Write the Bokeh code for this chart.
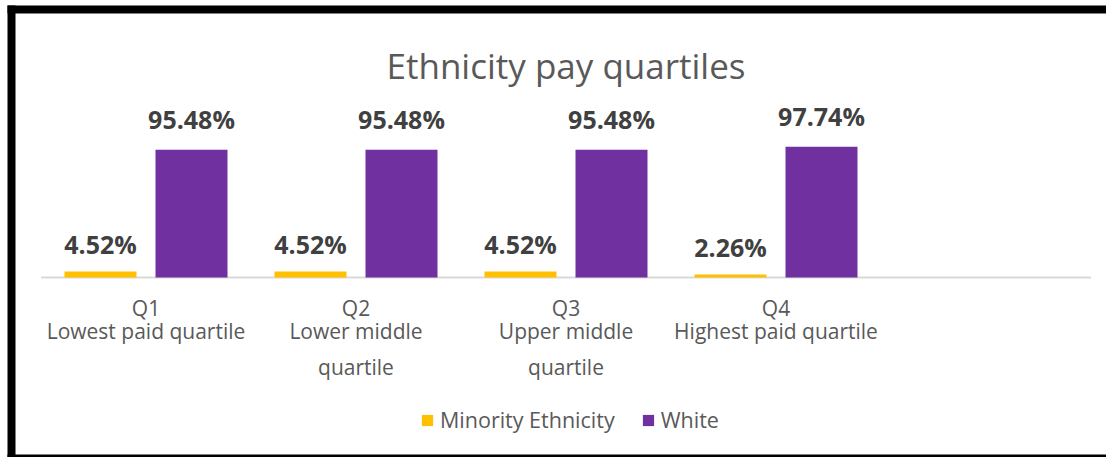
from bokeh.plotting import figure
from bokeh.models import Range1d, ColumnDataSource, Legend, LegendItem
from bokeh.embed import file_html
from bokeh.resources import INLINE
from bokeh.core.properties import value

# ---- data ----
title_text = "Ethnicity pay quartiles"
quartiles = ["Q1", "Q2", "Q3", "Q4"]
descriptions = ["Lowest paid quartile", "Lower middle\nquartile",
                "Upper middle\nquartile", "Highest paid quartile"]
minority = [4.52, 4.52, 4.52, 2.26]
white = [95.48, 95.48, 95.48, 97.74]
series_names = ["Minority Ethnicity", "White"]
colors = ["#FFC000", "#7030A0"]
n_slots = 5  # the original chart keeps one empty category slot on the right

# ---- layout (pixels) ----
W, H = 1106, 457
X0 = 40.5          # left end of the category axis
SLOT = 210.0       # width of one category slot
BASE = 277.0       # baseline (axis) position from top
PX_PER_UNIT = 1.338

def xdat(px):
    return (px - X0) / SLOT

def ydat(py):
    return (BASE - py) / PX_PER_UNIT

p = figure(width=W, height=H, output_backend="svg", toolbar_location=None,
           x_range=Range1d(xdat(0), xdat(W)), y_range=Range1d(ydat(H), ydat(0)),
           x_axis_type=None, y_axis_type=None, min_border=0,
           outline_line_color=None, background_fill_color="white",
           border_fill_color="white")
p.grid.visible = False

centers = [i + 0.5 for i in range(len(quartiles))]
bar_w = 72 / SLOT
off = 45.5 / SLOT

src = ColumnDataSource(dict(
    xm=[c - off for c in centers], xw=[c + off for c in centers],
    minority=minority, white=white,
    lm=[f"{v:.2f}%" for v in minority], lw=[f"{v:.2f}%" for v in white],
    xc=centers, q=quartiles, d=descriptions,
))

# axis line
p.segment(x0=[0], x1=[n_slots], y0=[0], y1=[0], line_color="#d9d9d9", line_width=2)

r1 = p.vbar(x="xm", top="minority", width=bar_w, source=src,
            fill_color=colors[0], line_color=None)
r2 = p.vbar(x="xw", top="white", width=bar_w, source=src,
            fill_color=colors[1], line_color=None)

lbl = dict(text_font=value("Open Sans"), text_font_style="bold", text_font_size="25px",
           text_color="#404040", text_align="center", text_baseline="alphabetic")
p.text(x="xm", y="minority", text="lm", source=src, y_offset=-27, **lbl)
p.text(x="xw", y="white", text="lw", source=src, y_offset=-31, **lbl)

# category labels
cat = dict(text_font=value("Open Sans"), text_font_size="21px", text_color="#595959",
           text_align="center", text_baseline="top")
p.text(x="xc", y=0, text="q", source=src, y_offset=16, **cat)
p.text(x="xc", y=0, text="d", source=src, y_offset=39, text_line_height=1.29, **cat)

# title
p.text(x=[n_slots / 2], y=[ydat(65)], text=[title_text],
       text_font=value("Open Sans"), text_font_size="35px", text_color="#595959",
       text_align="center", text_baseline="alphabetic")

# chart border (left, top and bottom edges are visible in the original), drawn as filled strips
p.quad(left=[xdat(7), xdat(7), xdat(7)], right=[xdat(15), xdat(W), xdat(W)],
       top=[ydat(5), ydat(5), ydat(454)], bottom=[ydat(H), ydat(13), ydat(H)],
       fill_color="black", line_color=None)

legend = Legend(items=[LegendItem(label=series_names[0], renderers=[r1]),
                       LegendItem(label=series_names[1], renderers=[r2])],
                orientation="horizontal", location=(420, 23),
                glyph_width=14, glyph_height=14, label_standoff=6, spacing=26,
                padding=0, margin=0, border_line_color=None,
                background_fill_alpha=0,
                label_text_font="Open Sans", label_text_font_size="21.5px",
                label_text_color="#595959")
p.add_layout(legend)

open("out.html", "w").write(file_html(p, INLINE))
